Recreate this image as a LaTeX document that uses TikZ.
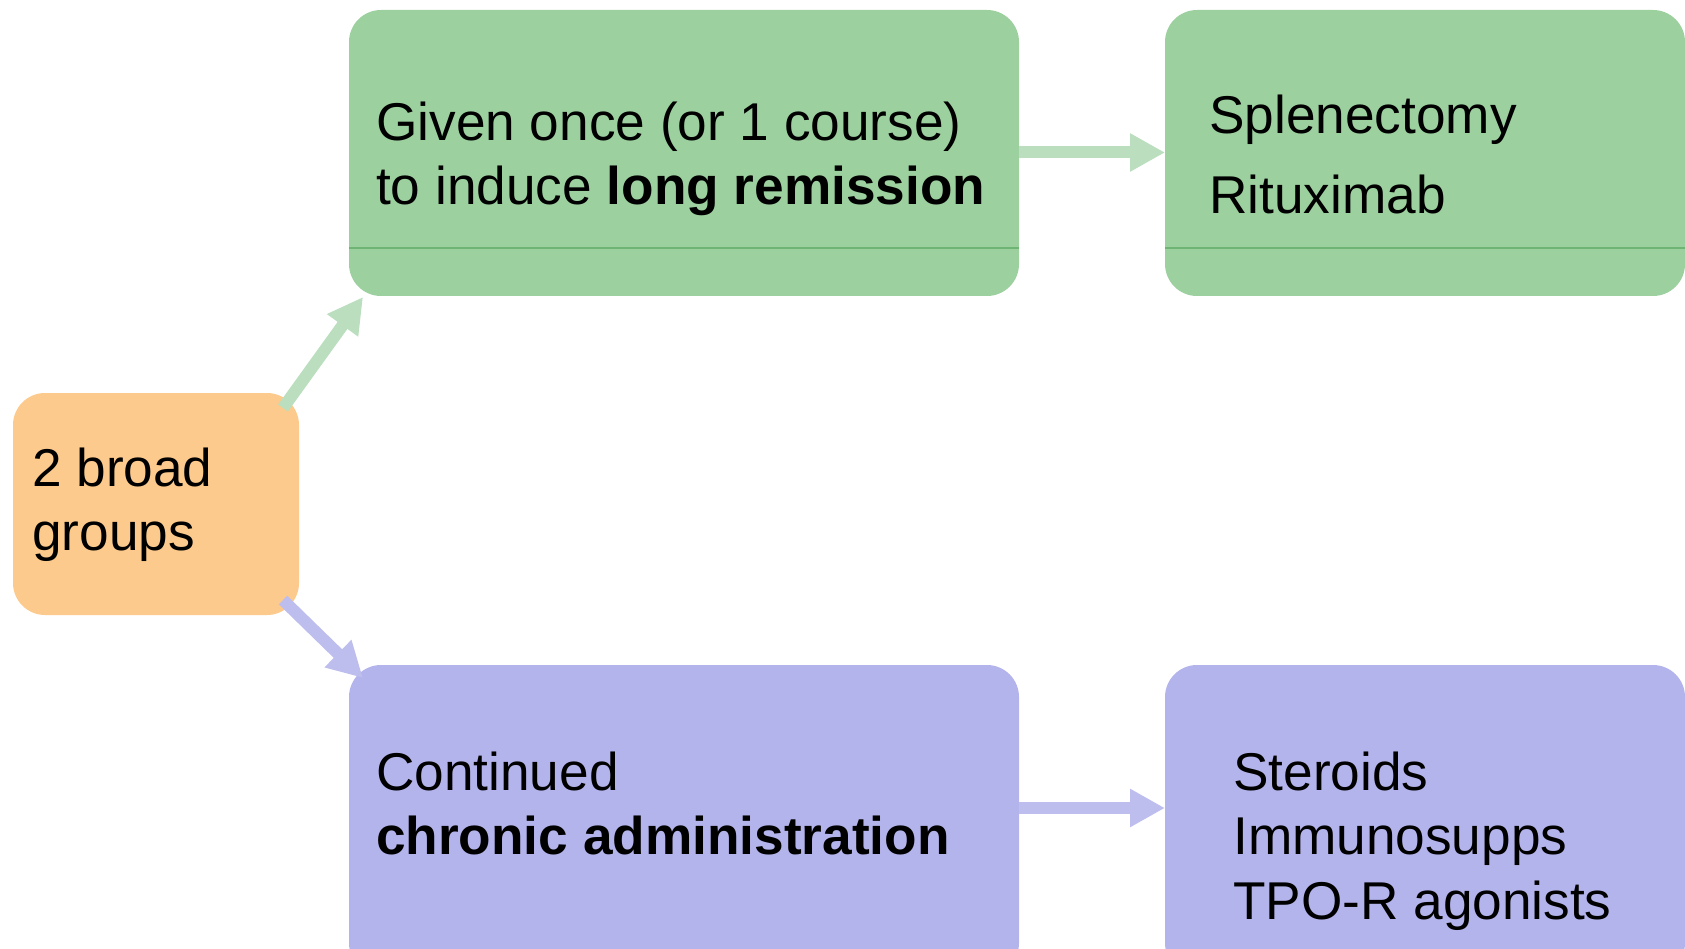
\documentclass[tikz,border=0pt]{standalone}
\usepackage{fontspec}
\setmainfont{Liberation Sans}
\usetikzlibrary{arrows.meta,calc}
\definecolor{gfill}{RGB}{157,208,159}
\definecolor{gline}{RGB}{110,180,115}
\definecolor{ofill}{RGB}{252,202,140}
\definecolor{pfill}{RGB}{180,180,236}
\definecolor{garrow}{RGB}{186,222,190}
\definecolor{parrow}{RGB}{190,190,238}
\tikzset{
  box/.style={rounded corners=32pt, inner sep=0pt, outer sep=0pt},
  lbl/.style={anchor=base west, inner sep=0pt, font=\fontsize{53.2}{64}\selectfont},
  fat/.style={line width=12pt, -{Triangle[width=36pt,length=35pt]}},
}
\begin{document}
\begin{tikzpicture}[x=1pt,y=-1pt]
\useasboundingbox (0,0) rectangle (1685,949);
% boxes
\node[box, fill=ofill, minimum width=286pt, minimum height=222pt, anchor=north west] (o) at (13,393) {};
\node[box, fill=gfill, minimum width=670pt, minimum height=286pt, anchor=north west] (g1) at (349,10) {};
\node[box, fill=gfill, minimum width=520pt, minimum height=286pt, anchor=north west] (g2) at (1165,10) {};
\node[box, fill=pfill, minimum width=670pt, minimum height=310pt, anchor=north west] (p1) at (349,665) {};
\node[box, fill=pfill, minimum width=520pt, minimum height=310pt, anchor=north west] (p2) at (1165,665) {};
% faint lines inside green boxes
\draw[gline, line width=1.2pt] (349,248) -- (1019,248);
\draw[gline, line width=1.2pt] (1165,248) -- (1685,248);
% texts
\node[lbl] (t1) at (32,486) {2 broad};
\node[lbl] (t2) at (32,550) {groups};
\node[lbl] (t3) at (376,141) {Given once (or 1 course)};
\node[lbl] (t4) at (376,205) {to induce \textbf{long remission}};
\node[lbl] (t5) at (1209,134) {Splenectomy};
\node[lbl] (t6) at (1209,214) {Rituximab};
\node[lbl] (t7) at (376,790) {Continued};
\node[lbl] (t8) at (376,854) {\textbf{chronic administration}};
\node[lbl] (t9) at (1233,790) {Steroids};
\node[lbl] (t10) at (1233,854) {Immunosupps};
\node[lbl] (t11) at (1233,919) {TPO-R agonists};
% arrows
\draw[fat, garrow] ([shift={(-16pt,-15pt)}]o.north east) -- ([shift={(14pt,-1pt)}]g1.south west);
\draw[fat, parrow] ([shift={(-16pt,15pt)}]o.south east) -- ([shift={(14pt,-13pt)}]p1.north west);
\draw[fat, garrow] ($(g1.north east)+(0,-142.5pt)$) -- ($(g2.north west)+(0,-142.5pt)$);
\draw[fat, parrow] ($(p1.north east)+(0,-143pt)$) -- ($(p2.north west)+(0,-143pt)$);
\end{tikzpicture}
\end{document}
